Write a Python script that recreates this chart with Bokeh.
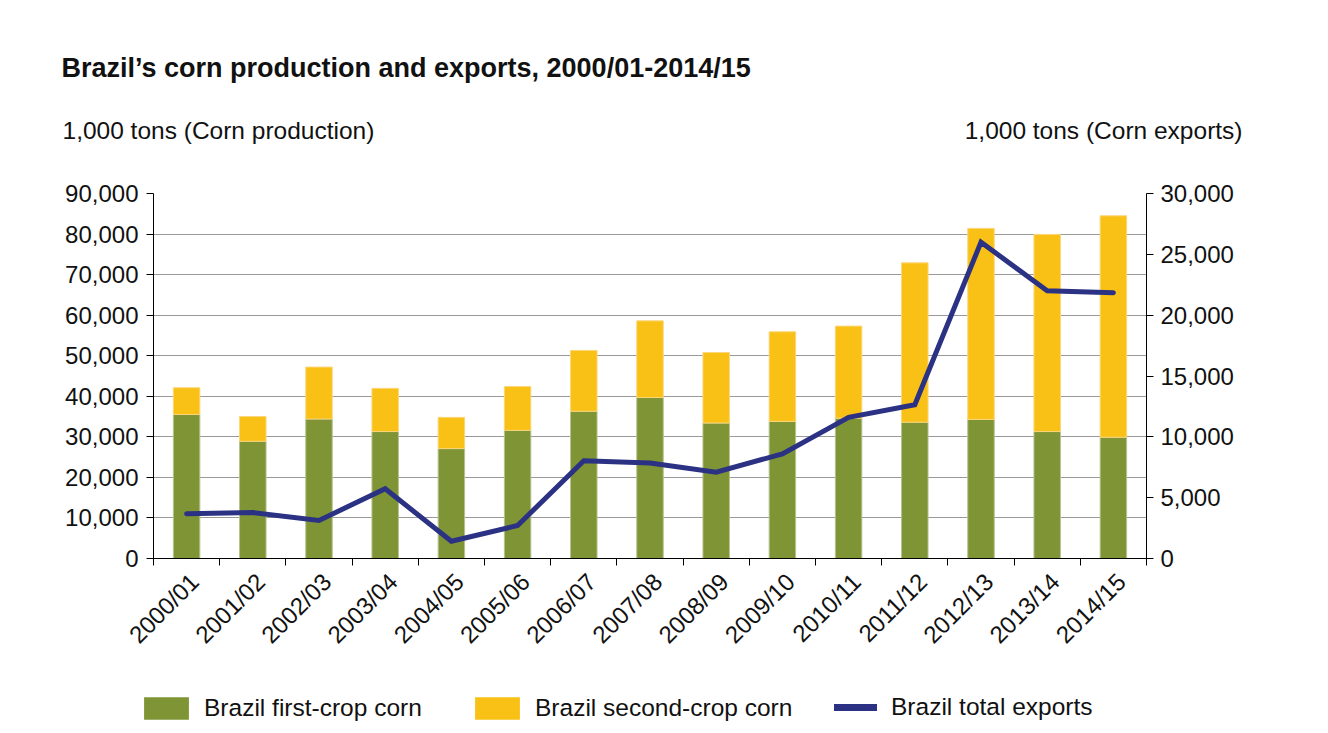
import math
from bokeh.plotting import figure
from bokeh.layouts import column
from bokeh.models import (Range1d, LinearAxis, FixedTicker, NumeralTickFormatter,
                          Label, Legend, LegendItem, ColumnDataSource)
from bokeh.embed import file_html
from bokeh.resources import INLINE

# ---- data (1,000 tons) ----
seasons = ["2000/01", "2001/02", "2002/03", "2003/04", "2004/05", "2005/06", "2006/07",
           "2007/08", "2008/09", "2009/10", "2010/11", "2011/12", "2012/13", "2013/14", "2014/15"]
first_crop = [35500, 28900, 34400, 31300, 27100, 31600, 36300, 39700, 33400, 33800,
              34600, 33600, 34300, 31300, 29900]
second_crop = [6600, 6100, 12800, 10650, 7700, 10800, 15000, 18900, 17400, 22100,
               22700, 39300, 47100, 48600, 54600]
exports = [3680, 3780, 3130, 5730, 1420, 2710, 8030, 7840, 7100, 8600,
           11600, 12640, 26000, 22000, 21850]
left_ticks = [0, 10000, 20000, 30000, 40000, 50000, 60000, 70000, 80000, 90000]
right_ticks = [0, 5000, 10000, 15000, 20000, 25000, 30000]

title_text = "Brazil\u2019s corn production and exports, 2000/01-2014/15"
left_unit = "1,000 tons (Corn production)"
right_unit = "1,000 tons (Corn exports)"
legend_labels = ["Brazil first-crop corn", "Brazil second-crop corn", "Brazil total exports"]

GREEN = "#7E9435"
YELLOW = "#F9C016"
NAVY = "#2C3283"
FONT = "Liberation Sans"
TXT = "#111111"
W = 1328


def blank(height):
    f = figure(width=W, height=height, output_backend="svg", toolbar_location=None,
               x_range=Range1d(0, 1), y_range=Range1d(0, 1), min_border=0,
               outline_line_color=None)
    f.axis.visible = False
    f.grid.grid_line_color = None
    f.frame_align = False
    return f


# ---------- header ----------
top = blank(170)
top.add_layout(Label(x=61, y=103, x_units="screen", y_units="screen", text=title_text,
                     text_font=FONT, text_font_size="27px", text_font_style="bold",
                     text_color=TXT, text_baseline="middle"))
top.add_layout(Label(x=62, y=40, x_units="screen", y_units="screen", text=left_unit,
                     text_font=FONT, text_font_size="24.5px", text_color=TXT,
                     text_baseline="middle"))
top.add_layout(Label(x=1242, y=40, x_units="screen", y_units="screen", text=right_unit,
                     text_font=FONT, text_font_size="24.5px", text_color=TXT,
                     text_baseline="middle", text_align="right"))

# ---------- main chart ----------
n = len(seasons)
xc = [i + 0.5 for i in range(n)]
src = ColumnDataSource(dict(
    x=xc, season=seasons, first=first_crop, second=second_crop, exports=exports,
    total=[a + b for a, b in zip(first_crop, second_crop)],
))

p = figure(width=W, height=510, output_backend="svg", toolbar_location=None,
           x_range=Range1d(0, n), y_range=Range1d(0, left_ticks[-1]),
           min_border_left=153, min_border_right=182, min_border_top=23,
           min_border_bottom=122, outline_line_color=None)
p.frame_align = False
p.extra_y_ranges = {"exp": Range1d(0, right_ticks[-1])}

p.xgrid.grid_line_color = None
p.ygrid.ticker = FixedTicker(ticks=left_ticks)
p.ygrid.grid_line_color = "#999999"
p.ygrid.grid_line_width = 1

r1 = p.vbar(x="x", width=0.4, bottom=0, top="first", source=src,
            fill_color=GREEN, line_color="#b7c28f", line_width=1)
r2 = p.vbar(x="x", width=0.4, bottom="first", top="total", source=src,
            fill_color=YELLOW, line_color="#fbd67a", line_width=1)
r3 = p.line(x="x", y="exports", source=src, y_range_name="exp",
            line_color=NAVY, line_width=5, line_cap="round", line_join="miter")


def style_axis(ax):
    ax.axis_line_color = "black"
    ax.axis_line_width = 1
    ax.major_tick_line_color = "black"
    ax.major_tick_in = 0
    ax.major_tick_out = 7
    ax.minor_tick_line_color = None
    ax.major_label_text_font = FONT
    ax.major_label_text_font_size = "24px"
    ax.major_label_text_color = TXT
    ax.major_label_standoff = 8


yl = p.yaxis[0]
style_axis(yl)
yl.ticker = FixedTicker(ticks=left_ticks)
yl.formatter = NumeralTickFormatter(format="0,0")

yr = LinearAxis(y_range_name="exp", ticker=FixedTicker(ticks=right_ticks),
                formatter=NumeralTickFormatter(format="0,0"))
style_axis(yr)
yr.major_label_standoff = 7
p.add_layout(yr, "right")

label_pos = [x + 0.12 for x in xc]
xa = p.xaxis[0]
style_axis(xa)
xa.ticker = FixedTicker(ticks=label_pos, minor_ticks=list(range(n + 1)))
xa.major_tick_line_color = None
xa.minor_tick_line_color = "black"
xa.minor_tick_in = 0
xa.minor_tick_out = 7
xa.major_label_overrides = {x: s for x, s in zip(label_pos, seasons)}
xa.major_label_orientation = math.pi / 4
xa.major_label_standoff = 12

# ---------- legend strip ----------
# invisible stand-in glyphs (outside the strip's range) that carry the legend styles
bot = blank(53)
d1 = bot.vbar(x=[5], top=[6], bottom=[5], width=0.1, fill_color=GREEN, line_color=None)
d2 = bot.vbar(x=[5], top=[6], bottom=[5], width=0.1, fill_color=YELLOW, line_color=None)
d3 = bot.line(x=[5, 6], y=[5, 5], line_color=NAVY, line_width=7, line_cap="round")


def make_legend(label, r, loc, gw, standoff):
    lg = Legend(items=[LegendItem(label=label, renderers=[r])], location=loc,
                orientation="horizontal", glyph_width=gw, glyph_height=28,
                label_text_font=FONT, label_text_font_size="24.5px",
                label_text_color=TXT, label_standoff=standoff, label_height=28,
                padding=0, margin=0, spacing=0, border_line_alpha=0,
                background_fill_alpha=0)
    bot.add_layout(lg)


make_legend(legend_labels[0], d1, (138, 11), 56, 10)
make_legend(legend_labels[1], d2, (469, 11), 56, 10)
make_legend(legend_labels[2], d3, (834, 12), 43, 14)

layout = column(top, p, bot, spacing=0)
open("out.html", "w").write(file_html(layout, INLINE))
